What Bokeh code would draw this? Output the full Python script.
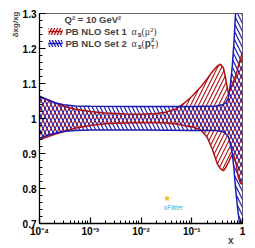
import numpy as np
from bokeh.plotting import figure
from bokeh.models import (Label, LogTicker, SingleIntervalTicker,
                          CustomJSTickFormatter, Range1d, Title)
from bokeh.embed import file_html
from bokeh.resources import INLINE

# ---------------- data ----------------
set1_x = [1e-4, 2e-4, 3e-4, 5e-4, 1e-3, 2e-3, 5e-3, 1e-2, 2e-2, 3e-2, 5e-2,
          7e-2, 0.1, 0.15, 0.2, 0.25, 0.32, 0.37, 0.42, 0.46, 0.53, 0.6,
          0.66, 0.75, 0.83, 0.91, 1.0]
set1_up = [1.062, 1.045, 1.035, 1.027, 1.020, 1.016, 1.013, 1.012, 1.014,
           1.018, 1.028, 1.043, 1.063, 1.090, 1.113, 1.132, 1.150, 1.155,
           1.145, 1.118, 1.070, 1.090, 1.105, 1.125, 1.150, 1.170, 1.190]
set1_lo = [0.940, 0.955, 0.963, 0.972, 0.980, 0.985, 0.987, 0.988, 0.988,
           0.987, 0.984, 0.980, 0.976, 0.968, 0.947, 0.915, 0.870, 0.856,
           0.851, 0.858, 0.875, 0.892, 0.899, 0.870, 0.832, 0.815, 0.812]

set2_x = [1e-4, 1.5e-4, 2e-4, 3e-4, 5e-4, 1e-3, 1e-2, 0.1, 0.3, 0.42, 0.48,
          0.53, 0.58, 0.63, 0.68, 0.73, 0.8, 0.87, 0.93, 1.0]
set2_up = [1.064, 1.053, 1.045, 1.039, 1.036, 1.035, 1.034, 1.034, 1.036,
           1.040, 1.047, 1.060, 1.100, 1.150, 1.220, 1.300, 1.400, 1.500,
           1.580, 1.660]
set2_lo = [0.944, 0.953, 0.958, 0.963, 0.966, 0.967, 0.967, 0.966, 0.966,
           0.962, 0.955, 0.947, 0.925, 0.900, 0.855, 0.800, 0.745, 0.700,
           0.665, 0.630]

legend_title = "Q² = 10 GeV²"
legend_names = ["PB NLO Set 1", "PB NLO Set 2"]
x_title = "x"
y_title = "δxg/xg"

RED = "#b01212"
BLUE = "#1a1ab4"

X0, X1 = 1e-4, 1.0
Y0, Y1 = 0.7, 1.3
FL, FT, FW, FH = 39, 13, 203, 210   # frame in page pixels


def dx(px):
    return 10 ** (np.log10(X0) + (px - FL) / FW * (np.log10(X1) - np.log10(X0)))


def dy(py):
    return Y1 - (py - FT) / FH * (Y1 - Y0)


p = figure(width=255, height=248, x_axis_type="log",
           x_range=Range1d(X0, X1), y_range=Range1d(Y0, Y1),
           output_backend="svg", toolbar_location=None,
           min_border_left=39, min_border_right=13,
           min_border_top=13, min_border_bottom=25)
p.xgrid.visible = False
p.ygrid.visible = False
p.outline_line_color = "#666666"
p.outline_line_width = 1
p.background_fill_color = "white"
p.border_fill_color = "white"

# bands
p.varea(x=set1_x, y1=set1_lo, y2=set1_up, fill_color=None,
        hatch_pattern="/", hatch_color=RED, hatch_weight=1.1, hatch_scale=8)
p.varea(x=set2_x, y1=set2_lo, y2=set2_up, fill_color=None,
        hatch_pattern="\\", hatch_color=BLUE, hatch_weight=1.2, hatch_scale=8)
p.line(set1_x, set1_up, line_color=RED, line_width=1.5)
p.line(set1_x, set1_lo, line_color=RED, line_width=1.5)
p.line(set2_x, set2_up, line_color=BLUE, line_width=1.5)
p.line(set2_x, set2_lo, line_color=BLUE, line_width=1.5)

# axes
xa = p.xaxis[0]
xa.ticker = LogTicker(num_minor_ticks=10)
xa.formatter = CustomJSTickFormatter(code="""
const e = Math.round(Math.log10(tick));
if (e == 0) return "1";
const sup = {"-":"\u207b","0":"\u2070","1":"\u00b9","2":"\u00b2","3":"\u00b3",
             "4":"\u2074","5":"\u2075","6":"\u2076","7":"\u2077","8":"\u2078","9":"\u2079"};
return "10" + String(e).split("").map(c => sup[c]).join("");
""")
ya = p.yaxis[0]
ya.ticker = SingleIntervalTicker(interval=0.1, num_minor_ticks=5)
ya.formatter = CustomJSTickFormatter(code="return String(Math.round(tick*10)/10);")
for ax in (xa, ya):
    ax.major_tick_in = 6
    ax.major_tick_out = 0
    ax.minor_tick_in = 3
    ax.minor_tick_out = 0
    ax.axis_line_width = 1.3
    ax.major_tick_line_width = 1.2
    ax.minor_tick_line_width = 1
    ax.major_label_text_font = "Liberation Sans"
    ax.major_label_text_font_style = "bold"
    ax.major_label_text_font_size = "10px"
    ax.major_label_text_color = "black"
xa.major_label_standoff = 2
ya.major_label_standoff = 3

# axis titles (as side titles so they are not clipped)
p.add_layout(Title(text=x_title, align="right", vertical_align="top",
                   offset=9, standoff=-9,
                   text_font="Liberation Sans", text_font_style="bold",
                   text_font_size="10px"), "below")
p.add_layout(Title(text=y_title, align="right", offset=-2, standoff=0,
                   text_font="Liberation Sans", text_font_style="bold",
                   text_font_size="8px"), "left")

# legend
p.add_layout(Label(x=dx(64), y=dy(19), text=legend_title,
                   text_font="Liberation Sans", text_font_style="bold",
                   text_font_size="9.5px", text_baseline="middle"))
for i, (col, pat) in enumerate([(RED, "/"), (BLUE, "\\")]):
    yc = 31 + 12 * i
    p.quad(left=[dx(48)], right=[dx(62)], top=[dy(yc - 3.5)],
           bottom=[dy(yc + 3.5)], fill_color=None, line_color=None,
           hatch_pattern=pat, hatch_color=col, hatch_weight=1.3,
           hatch_scale=6)
    p.line([dx(48), dx(62)], [dy(yc), dy(yc)], line_color=col, line_width=1.5)
    p.add_layout(Label(x=dx(65), y=dy(yc), text=legend_names[i],
                       text_font="Liberation Sans", text_font_style="bold",
                       text_font_size="9.5px", text_baseline="middle"))
    p.add_layout(Label(x=dx(131), y=dy(yc), text="α",
                       text_font="Liberation Serif", text_font_size="10px",
                       text_baseline="middle"))
    p.add_layout(Label(x=dx(137.3), y=dy(yc + 2.5), text="s",
                       text_font="Liberation Sans", text_font_style="bold",
                       text_font_size="7px", text_baseline="middle"))

yc = 31
p.add_layout(Label(x=dx(141), y=dy(yc), text="(μ²)",
                   text_font="Liberation Serif", text_font_size="10px",
                   text_baseline="middle"))
yc = 43
p.add_layout(Label(x=dx(141), y=dy(yc), text="(",
                   text_font="Liberation Serif", text_font_size="10px",
                   text_baseline="middle"))
p.add_layout(Label(x=dx(144.3), y=dy(yc), text="p",
                   text_font="Liberation Sans", text_font_style="bold",
                   text_font_size="10px", text_baseline="middle"))
p.add_layout(Label(x=dx(150.5), y=dy(yc - 3.5), text="2",
                   text_font="Liberation Sans", text_font_style="bold",
                   text_font_size="6px", text_baseline="middle"))
p.add_layout(Label(x=dx(150.5), y=dy(yc + 3.5), text="T",
                   text_font="Liberation Sans", text_font_style="bold",
                   text_font_size="6px", text_baseline="middle"))
p.add_layout(Label(x=dx(154.5), y=dy(yc), text=")",
                   text_font="Liberation Serif", text_font_size="10px",
                   text_baseline="middle"))

# xFitter logo
p.scatter([dx(166.5)], [dy(198)], marker="star", size=5, color="#f2c12e")
p.add_layout(Label(x=dx(163), y=dy(207), text="xFitter",
                   text_font="Liberation Sans", text_font_style="italic",
                   text_font_size="7px", text_color="#4aa6e0",
                   text_baseline="middle"))

open("out.html", "w").write(file_html(p, INLINE))
